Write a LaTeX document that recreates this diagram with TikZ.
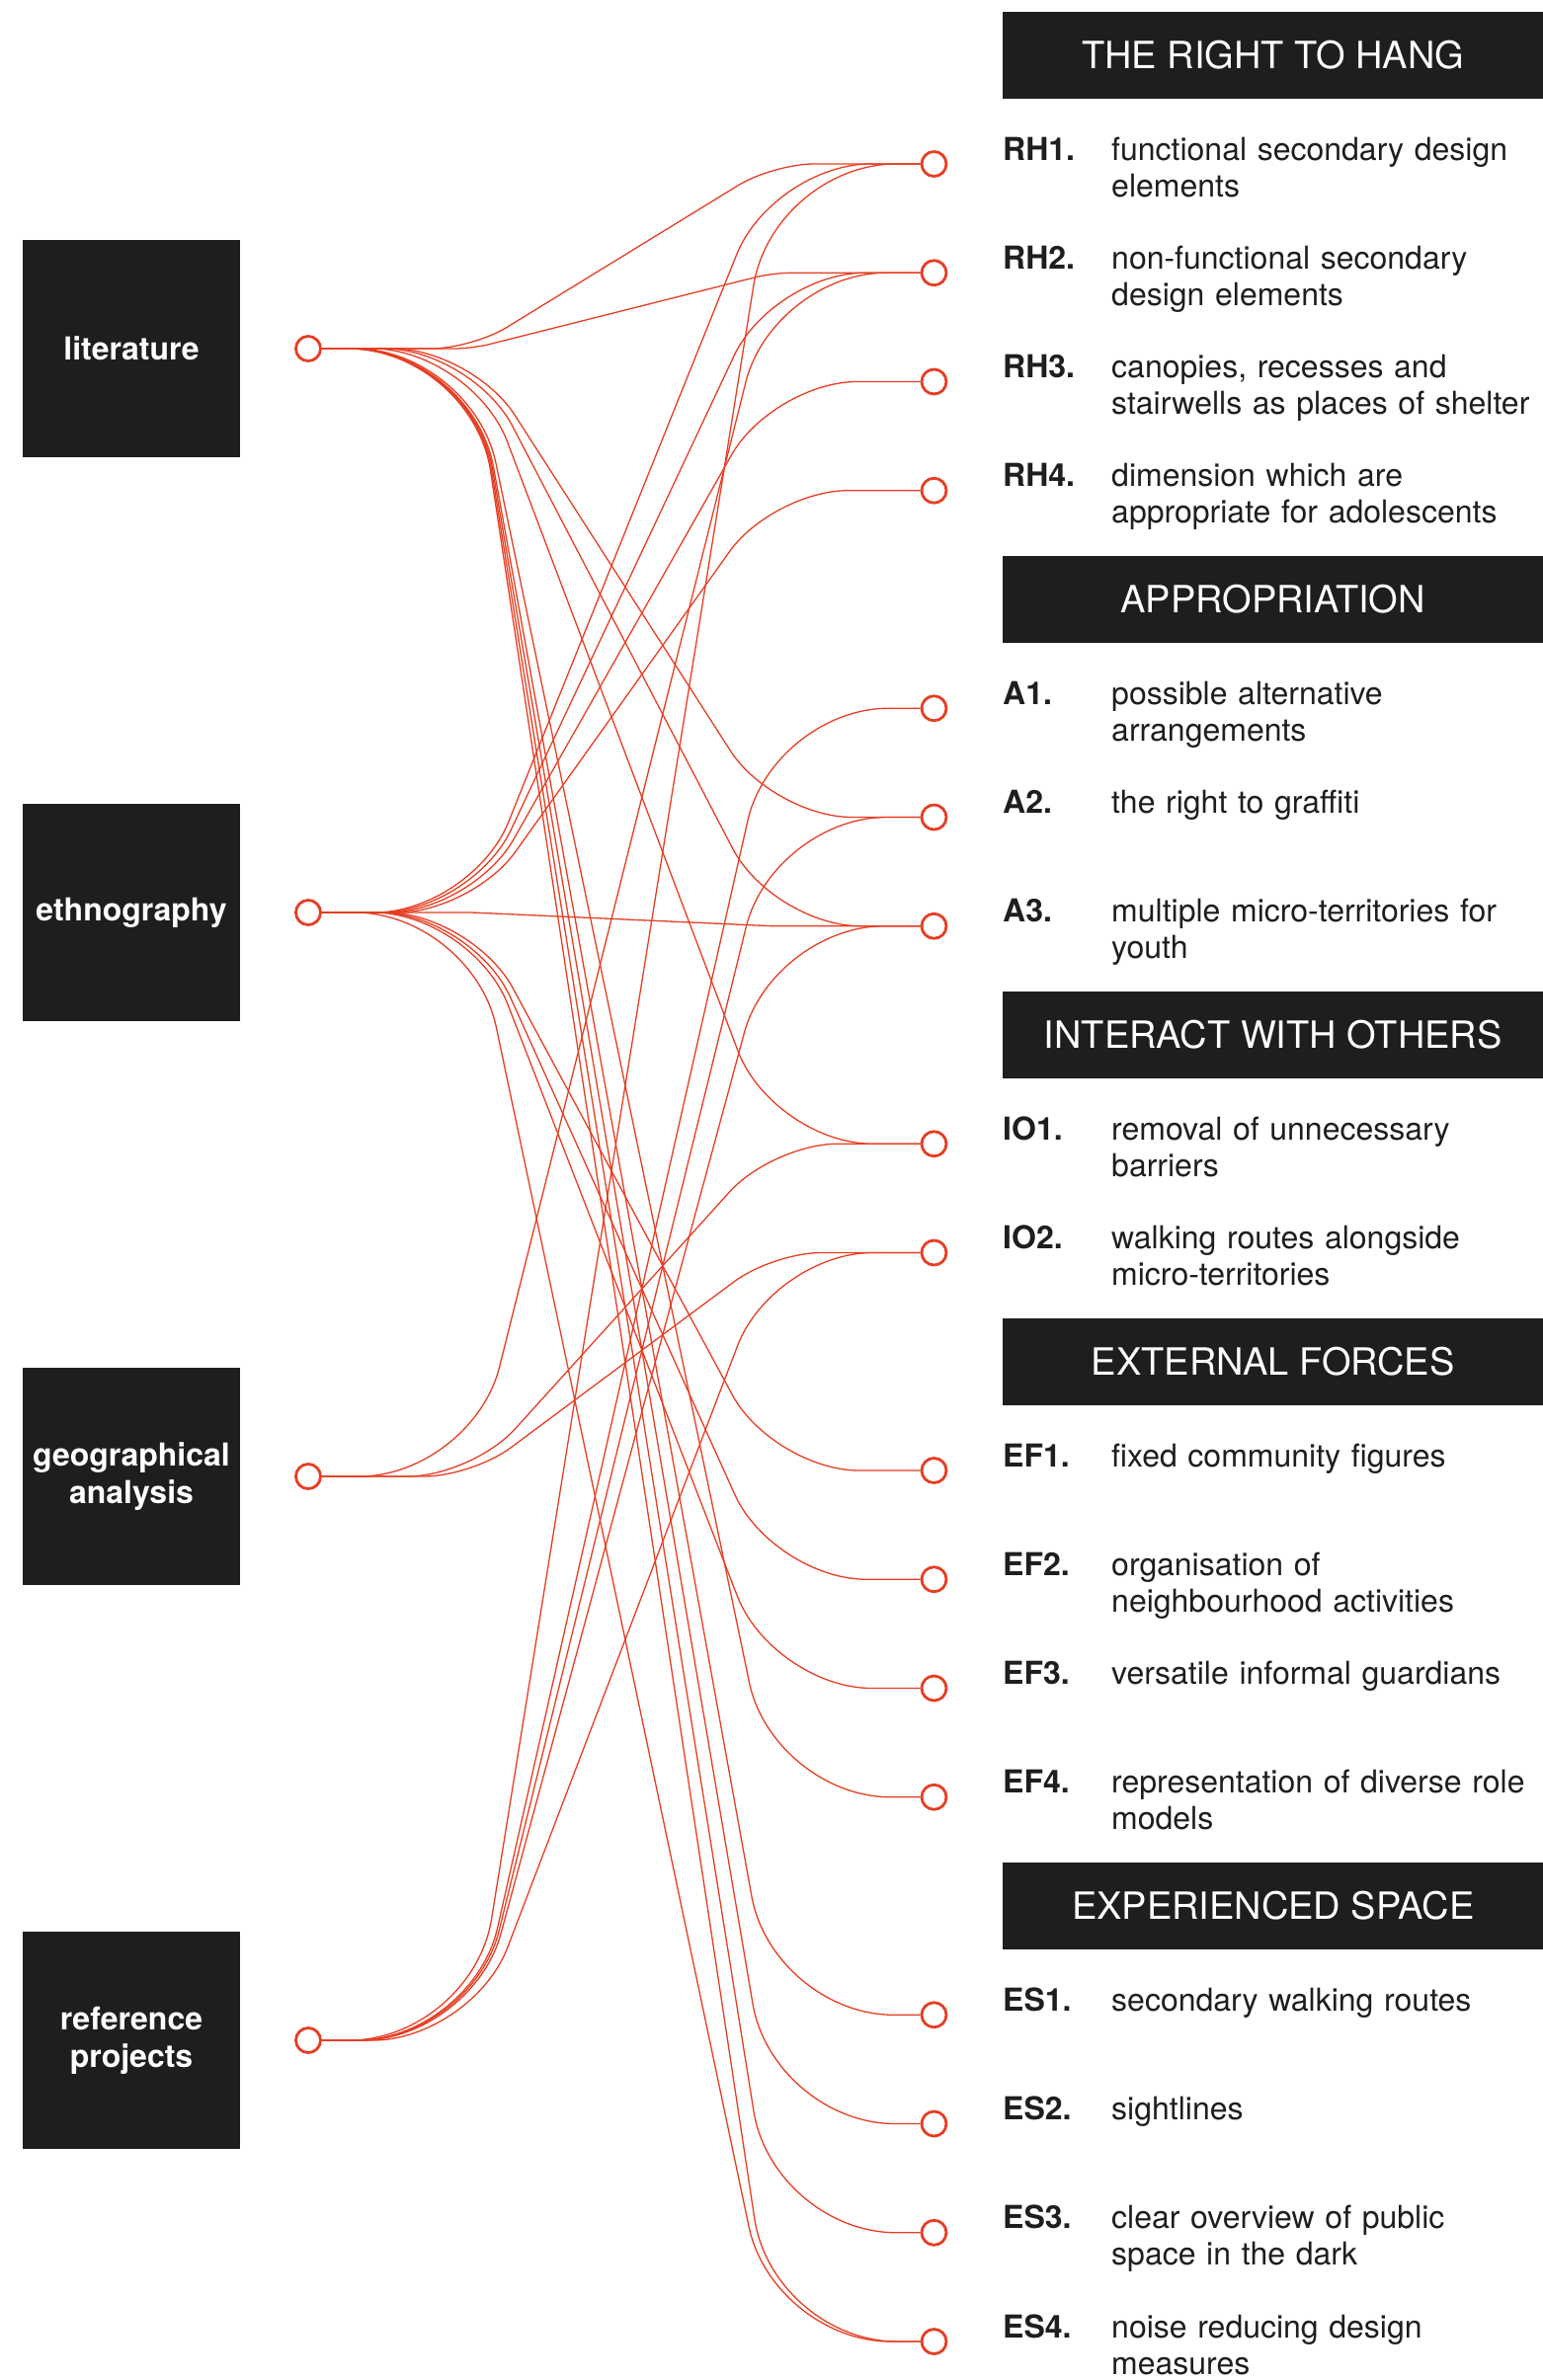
\documentclass[tikz,border=0pt]{standalone}
\usepackage{fontspec}
\setmainfont{TeX Gyre Heros}
\usetikzlibrary{calc}
\definecolor{accent}{RGB}{230,62,35}
\definecolor{ink}{RGB}{30,30,28}
\tikzset{
  link/.style={draw=accent, line width=1.3pt},
  port/.style={circle, draw=accent, line width=2.8pt, fill=white, minimum size=25pt, inner sep=0pt},
  srcbox/.style={fill=ink, minimum width=220pt, minimum height=220pt, text=white,
    font=\fontsize{32}{38}\selectfont\bfseries, align=center, inner sep=0pt},
  header/.style={fill=ink, minimum width=547pt, minimum height=88pt, text=white,
    font=\fontsize{38}{44}\selectfont, inner sep=0pt, anchor=west},
  code/.style={anchor=base west, font=\fontsize{32}{37}\selectfont\bfseries, text=ink, inner sep=0pt},
  desc/.style={anchor=base west, font=\fontsize{32}{37}\selectfont, text=ink, align=left,
    text width=600pt, inner sep=0pt},
}
\newcommand\principle[4]{%
  \node[port] (#1) at (945.5,{166+110.25*#2}) {};
  \node[code] (#1code) at (1015,{162+110.25*#2}) {#3};
  \node[desc] (#1text) at (1125,{162+110.25*#2}) {#4};
}
\newcommand\grouphead[3]{%
  \node[header] (#1) at (1015,{166+110.25*#2}) {#3};
}
\newcommand\link[2]{%
  \draw[link] let \p1=(#1.east), \p2=(#2.west),
    \n2={abs(\y2-\y1)/100},
    \n3={(\x2-\x1-301)/100},
    \n1={\n2/(veclen(\n3,\n2)+\n3)*146+0.01}
  in [rounded corners=\n1] (\p1) -- (\x1+152pt,\y1) -- (\x2-149pt,\y2) -- (\p2);
}
\begin{document}
\begin{tikzpicture}[x=1pt,y=-1pt]
\useasboundingbox (0,0) rectangle (1562,2410);

% sources
\node[srcbox] (litbox) at (133,353) {literature};
\node[srcbox] (ethbox) at (133,924) {ethnography};
\node[srcbox] (geobox) at (133,1495) {geographical\\analysis};
\node[srcbox] (refbox) at (133,2066) {reference\\projects};

% headers
\grouphead{hRH}{-1}{THE RIGHT TO HANG}
\grouphead{hA}{4}{APPROPRIATION}
\grouphead{hIO}{8}{INTERACT WITH OTHERS}
\grouphead{hEF}{11}{EXTERNAL FORCES}
\grouphead{hES}{16}{EXPERIENCED SPACE}

% principles
\principle{rh1}{0}{RH1.}{functional secondary design\\elements}
\principle{rh2}{1}{RH2.}{non-functional secondary\\design elements}
\principle{rh3}{2}{RH3.}{canopies, recesses and\\stairwells as places of shelter}
\principle{rh4}{3}{RH4.}{dimension which are\\appropriate for adolescents}
\principle{a1}{5}{A1.}{possible alternative\\arrangements}
\principle{a2}{6}{A2.}{the right to graffiti}
\principle{a3}{7}{A3.}{multiple micro-territories for\\youth}
\principle{io1}{9}{IO1.}{removal of unnecessary\\barriers}
\principle{io2}{10}{IO2.}{walking routes alongside\\micro-territories}
\principle{ef1}{12}{EF1.}{fixed community figures}
\principle{ef2}{13}{EF2.}{organisation of\\neighbourhood activities}
\principle{ef3}{14}{EF3.}{versatile informal guardians}
\principle{ef4}{15}{EF4.}{representation of diverse role\\models}
\principle{es1}{17}{ES1.}{secondary walking routes}
\principle{es2}{18}{ES2.}{sightlines}
\principle{es3}{19}{ES3.}{clear overview of public\\space in the dark}
\principle{es4}{20}{ES4.}{noise reducing design\\measures}

% source ports
\node[port] (lit) at (312,353) {};
\node[port] (eth) at (312,924) {};
\node[port] (geo) at (312,1495) {};
\node[port] (ref) at (312,2066) {};

% connectors
\link{lit}{rh1} \link{lit}{rh2} \link{lit}{a2} \link{lit}{a3} \link{lit}{io1}
\link{lit}{ef4} \link{lit}{es1} \link{lit}{es2} \link{lit}{es3} \link{lit}{es4}
\link{eth}{rh1} \link{eth}{rh2} \link{eth}{rh3} \link{eth}{rh4} \link{eth}{a3}
\link{eth}{ef1} \link{eth}{ef2} \link{eth}{ef3} \link{eth}{es4}
\link{geo}{rh2} \link{geo}{io1} \link{geo}{io2}
\link{ref}{rh1} \link{ref}{a1} \link{ref}{a2} \link{ref}{a3} \link{ref}{io2}
\end{tikzpicture}
\end{document}
